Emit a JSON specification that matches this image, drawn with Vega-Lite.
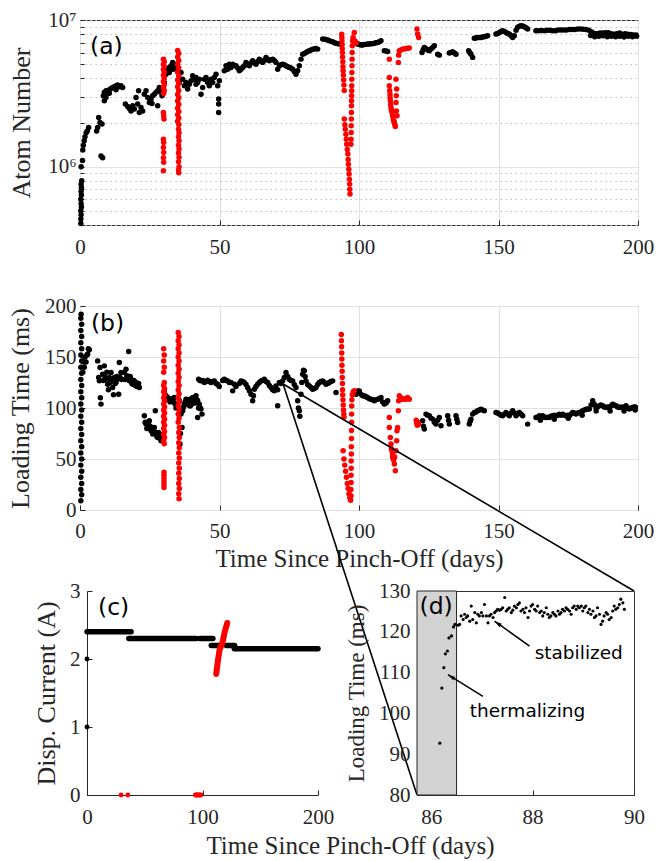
{
"$schema": "https://vega.github.io/schema/vega-lite/v6.json",
"background": "white",
"padding": {"left": 7, "top": 8, "right": 5, "bottom": 5},
"bounds": "flush",
"spacing": 81,
"config": {
  "view": {"stroke": "#333333", "strokeWidth": 1},
  "axis": {"labelFont": "Liberation Serif", "labelFontSize": 21, "labelColor": "#262626", "titleFont": "Liberation Serif", "titleFontWeight": "normal", "titleColor": "#262626", "tickColor": "#262626", "domainColor": "#262626", "labelFlush": false, "labelOverlap": false, "gridColor": "#e1e1e1", "gridWidth": 1, "tickWidth": 1}
},
"datasets": {
"a": [
{"t":0.3,"v":4.1e5,"c":"k"},{"t":0.3,"v":4.4e5,"c":"k"},{"t":0.4,"v":4.7e5,"c":"k"},{"t":0.3,"v":5.0e5,"c":"k"},{"t":0.5,"v":5.3e5,"c":"k"},{"t":0.4,"v":5.6e5,"c":"k"},{"t":0.3,"v":6.0e5,"c":"k"},{"t":0.5,"v":6.4e5,"c":"k"},{"t":0.4,"v":6.8e5,"c":"k"},{"t":0.5,"v":7.2e5,"c":"k"},{"t":0.4,"v":7.6e5,"c":"k"},{"t":0.6,"v":8.0e5,"c":"k"},{"t":0.4,"v":1.0e6,"c":"k"},{"t":0.9,"v":1.1e6,"c":"k"},{"t":1.0,"v":1.3e6,"c":"k"},{"t":1.2,"v":1.4e6,"c":"k"},{"t":1.5,"v":1.5e6,"c":"k"},{"t":1.8,"v":1.6e6,"c":"k"},{"t":2.2,"v":1.7e6,"c":"k"},{"t":2.6,"v":1.75e6,"c":"k"},{"t":3.1,"v":1.85e6,"c":"k"},
{"t":5.97,"v":1.75e6,"c":"k"},{"t":6.33,"v":1.85e6,"c":"k"},{"t":6.69,"v":2.16e6,"c":"k"},{"t":7.17,"v":2.0e6,"c":"k"},{"t":7.89,"v":1.95e6,"c":"k"},{"t":7.53,"v":1.18e6,"c":"k"},{"t":8.12,"v":1.15e6,"c":"k"},
{"t":8.36,"v":3.04e6,"c":"k"},{"t":8.72,"v":3.21e6,"c":"k"},{"t":8.72,"v":2.81e6,"c":"k"},{"t":9.32,"v":3.29e6,"c":"k"},{"t":9.32,"v":2.96e6,"c":"k"},{"t":9.92,"v":3.17e6,"c":"k"},{"t":10.51,"v":3.34e6,"c":"k"},{"t":10.51,"v":3.17e6,"c":"k"},{"t":11.11,"v":3.41e6,"c":"k"},{"t":11.71,"v":3.47e6,"c":"k"},{"t":12.31,"v":3.5e6,"c":"k"},{"t":12.9,"v":3.56e6,"c":"k"},{"t":12.9,"v":3.34e6,"c":"k"},{"t":13.5,"v":3.6e6,"c":"k"},{"t":14.1,"v":3.5e6,"c":"k"},{"t":14.7,"v":3.56e6,"c":"k"},{"t":15.29,"v":3.47e6,"c":"k"},
{"t":16.25,"v":2.67e6,"c":"k"},{"t":17.08,"v":2.57e6,"c":"k"},{"t":17.68,"v":2.49e6,"c":"k"},{"t":18.28,"v":2.40e6,"c":"k"},{"t":18.88,"v":2.60e6,"c":"k"},{"t":19.47,"v":2.47e6,"c":"k"},{"t":20.07,"v":2.96e6,"c":"k"},{"t":20.67,"v":2.67e6,"c":"k"},{"t":21.0,"v":3.29e6,"c":"k"},{"t":21.27,"v":2.34e6,"c":"k"},{"t":21.86,"v":2.53e6,"c":"k"},{"t":22.46,"v":2.40e6,"c":"k"},
{"t":23.06,"v":3.12e6,"c":"k"},{"t":23.66,"v":3.29e6,"c":"k"},{"t":24.25,"v":2.96e6,"c":"k"},{"t":24.85,"v":2.74e6,"c":"k"},{"t":25.45,"v":2.89e6,"c":"k"},{"t":25.8,"v":2.7e6,"c":"k"},{"t":26.05,"v":3.04e6,"c":"k"},{"t":26.64,"v":3.12e6,"c":"k"},{"t":27.24,"v":3.21e6,"c":"k"},{"t":27.84,"v":3.29e6,"c":"k"},{"t":27.84,"v":2.6e6,"c":"k"},{"t":28.43,"v":3.47e6,"c":"k"},{"t":29.03,"v":3.21e6,"c":"k"},{"t":29.39,"v":3.04e6,"c":"k"},
{"t":30.23,"v":3.75e6,"c":"k"},{"t":30.82,"v":4.27e6,"c":"k"},{"t":31.42,"v":4.62e6,"c":"k"},{"t":32.02,"v":4.75e6,"c":"k"},{"t":32.02,"v":4.39e6,"c":"k"},{"t":32.62,"v":4.88e6,"c":"k"},{"t":33.21,"v":5.14e6,"c":"k"},{"t":33.21,"v":4.62e6,"c":"k"},{"t":33.81,"v":5.0e6,"c":"k"},{"t":34.41,"v":4.62e6,"c":"k"},
{"t":35.6,"v":3.75e6,"c":"k"},{"t":36.2,"v":4.39e6,"c":"k"},{"t":36.8,"v":3.95e6,"c":"k"},{"t":37.4,"v":3.56e6,"c":"k"},{"t":38.0,"v":3.75e6,"c":"k"},{"t":38.59,"v":3.38e6,"c":"k"},{"t":39.19,"v":3.65e6,"c":"k"},{"t":39.78,"v":3.85e6,"c":"k"},{"t":40.38,"v":4.16e6,"c":"k"},{"t":40.98,"v":3.95e6,"c":"k"},{"t":41.58,"v":4.06e6,"c":"k"},{"t":41.58,"v":3.65e6,"c":"k"},{"t":42.17,"v":3.75e6,"c":"k"},{"t":42.77,"v":3.95e6,"c":"k"},{"t":43.37,"v":3.12e6,"c":"k"},{"t":43.97,"v":3.47e6,"c":"k"},{"t":44.56,"v":3.95e6,"c":"k"},{"t":45.16,"v":4.06e6,"c":"k"},{"t":45.76,"v":3.75e6,"c":"k"},{"t":46.36,"v":3.85e6,"c":"k"},{"t":46.36,"v":3.56e6,"c":"k"},{"t":46.95,"v":3.95e6,"c":"k"},{"t":47.55,"v":3.75e6,"c":"k"},{"t":48.15,"v":4.06e6,"c":"k"},{"t":48.75,"v":4.27e6,"c":"k"},{"t":49.34,"v":3.56e6,"c":"k"},{"t":49.94,"v":3.85e6,"c":"k"},{"t":49.7,"v":2.89e6,"c":"k"},{"t":49.7,"v":2.67e6,"c":"k"},{"t":49.7,"v":2.34e6,"c":"k"},
{"t":51.73,"v":4.5e6,"c":"k"},{"t":52.33,"v":4.88e6,"c":"k"},{"t":52.93,"v":4.62e6,"c":"k"},{"t":53.52,"v":5.0e6,"c":"k"},{"t":54.12,"v":4.75e6,"c":"k"},{"t":54.72,"v":5.0e6,"c":"k"},{"t":55.32,"v":4.9e6,"c":"k"},{"t":55.91,"v":4.88e6,"c":"k"},{"t":56.5,"v":4.7e6,"c":"k"},{"t":57.11,"v":4.5e6,"c":"k"},{"t":57.71,"v":4.62e6,"c":"k"},{"t":58.3,"v":4.75e6,"c":"k"},{"t":58.9,"v":4.88e6,"c":"k"},
{"t":59.5,"v":5.14e6,"c":"k"},{"t":60.1,"v":5.0e6,"c":"k"},{"t":60.69,"v":4.88e6,"c":"k"},{"t":61.29,"v":5.1e6,"c":"k"},{"t":61.89,"v":5.27e6,"c":"k"},{"t":62.49,"v":5.1e6,"c":"k"},{"t":63.08,"v":5.0e6,"c":"k"},{"t":63.68,"v":5.2e6,"c":"k"},{"t":64.28,"v":5.41e6,"c":"k"},{"t":64.87,"v":5.3e6,"c":"k"},{"t":65.47,"v":5.14e6,"c":"k"},{"t":66.07,"v":5.3e6,"c":"k"},{"t":66.67,"v":5.56e6,"c":"k"},{"t":67.26,"v":5.4e6,"c":"k"},{"t":67.86,"v":5.27e6,"c":"k"},{"t":68.46,"v":5.35e6,"c":"k"},{"t":69.06,"v":5.41e6,"c":"k"},{"t":69.65,"v":5.3e6,"c":"k"},{"t":70.25,"v":5.14e6,"c":"k"},
{"t":70.85,"v":4.62e6,"c":"k"},{"t":71.45,"v":4.88e6,"c":"k"},{"t":72.04,"v":4.95e6,"c":"k"},{"t":72.64,"v":5.0e6,"c":"k"},{"t":73.24,"v":4.95e6,"c":"k"},{"t":73.84,"v":4.88e6,"c":"k"},{"t":74.44,"v":4.8e6,"c":"k"},{"t":75.03,"v":4.75e6,"c":"k"},{"t":75.6,"v":4.7e6,"c":"k"},{"t":76.22,"v":4.62e6,"c":"k"},{"t":76.8,"v":4.45e6,"c":"k"},{"t":77.42,"v":4.27e6,"c":"k"},{"t":78.02,"v":4.5e6,"c":"k"},{"t":78.61,"v":4.88e6,"c":"k"},{"t":79.21,"v":5.41e6,"c":"k"},{"t":79.81,"v":5.85e6,"c":"k"},{"t":80.4,"v":5.9e6,"c":"k"},{"t":81.0,"v":6.01e6,"c":"k"},
{"t":81.6,"v":6.1e6,"c":"k"},{"t":82.2,"v":6.17e6,"c":"k"},{"t":82.8,"v":6.25e6,"c":"k"},{"t":83.39,"v":6.33e6,"c":"k"},{"t":84.0,"v":6.35e6,"c":"k"},{"t":84.59,"v":6.4e6,"c":"k"},{"t":85.19,"v":6.33e6,"c":"k"},
{"t":86.98,"v":7.41e6,"c":"k"},{"t":87.6,"v":7.4e6,"c":"k"},{"t":88.17,"v":7.35e6,"c":"k"},{"t":88.8,"v":7.3e6,"c":"k"},{"t":89.37,"v":7.22e6,"c":"k"},{"t":90.0,"v":7.15e6,"c":"k"},{"t":90.56,"v":7.1e6,"c":"k"},{"t":91.2,"v":7.0e6,"c":"k"},{"t":91.76,"v":6.95e6,"c":"k"},{"t":92.4,"v":6.9e6,"c":"k"},{"t":92.95,"v":6.85e6,"c":"k"},
{"t":99.52,"v":6.85e6,"c":"k"},{"t":100.1,"v":6.8e6,"c":"k"},{"t":100.72,"v":6.75e6,"c":"k"},{"t":101.31,"v":6.75e6,"c":"k"},{"t":101.9,"v":6.8e6,"c":"k"},{"t":102.5,"v":6.82e6,"c":"k"},{"t":103.1,"v":6.85e6,"c":"k"},{"t":103.7,"v":6.87e6,"c":"k"},{"t":104.3,"v":6.88e6,"c":"k"},{"t":104.9,"v":6.9e6,"c":"k"},{"t":105.5,"v":6.95e6,"c":"k"},{"t":106.1,"v":7.0e6,"c":"k"},{"t":106.69,"v":7.03e6,"c":"k"},{"t":107.3,"v":7.1e6,"c":"k"},{"t":107.88,"v":7.22e6,"c":"k"},
{"t":109.08,"v":6.17e6,"c":"k"},{"t":109.7,"v":6.15e6,"c":"k"},{"t":110.27,"v":6.1e6,"c":"k"},
{"t":122.58,"v":6.01e6,"c":"k"},{"t":123.0,"v":6.3e6,"c":"k"},{"t":123.41,"v":6.5e6,"c":"k"},{"t":123.8,"v":6.4e6,"c":"k"},{"t":124.25,"v":6.33e6,"c":"k"},{"t":124.7,"v":6.25e6,"c":"k"},{"t":125.2,"v":6.17e6,"c":"k"},{"t":125.8,"v":6.35e6,"c":"k"},{"t":126.4,"v":6.5e6,"c":"k"},{"t":127.0,"v":6.68e6,"c":"k"},
{"t":128.19,"v":5.85e6,"c":"k"},{"t":128.79,"v":5.76e6,"c":"k"},
{"t":132.37,"v":5.95e6,"c":"k"},{"t":132.9,"v":6.0e6,"c":"k"},{"t":133.57,"v":6.07e6,"c":"k"},{"t":134.2,"v":5.95e6,"c":"k"},{"t":134.76,"v":5.85e6,"c":"k"},
{"t":139.3,"v":6.17e6,"c":"k"},{"t":139.7,"v":6.0e6,"c":"k"},{"t":140.14,"v":5.85e6,"c":"k"},{"t":140.74,"v":5.56e6,"c":"k"},
{"t":141.33,"v":7.5e6,"c":"k"},{"t":141.9,"v":7.55e6,"c":"k"},{"t":142.53,"v":7.61e6,"c":"k"},{"t":143.1,"v":7.61e6,"c":"k"},{"t":143.72,"v":7.61e6,"c":"k"},{"t":144.3,"v":7.65e6,"c":"k"},{"t":144.92,"v":7.7e6,"c":"k"},{"t":145.5,"v":7.75e6,"c":"k"},{"t":146.11,"v":7.81e6,"c":"k"},
{"t":149.1,"v":8.02e6,"c":"k"},{"t":149.7,"v":8.1e6,"c":"k"},{"t":150.3,"v":8.23e6,"c":"k"},{"t":150.9,"v":8.35e6,"c":"k"},{"t":151.49,"v":8.45e6,"c":"k"},{"t":152.1,"v":8.35e6,"c":"k"},{"t":152.68,"v":8.23e6,"c":"k"},{"t":153.3,"v":8.1e6,"c":"k"},{"t":153.88,"v":8.02e6,"c":"k"},{"t":154.5,"v":7.8e6,"c":"k"},{"t":155.07,"v":7.61e6,"c":"k"},{"t":155.67,"v":7.81e6,"c":"k"},
{"t":156.3,"v":8.5e6,"c":"k"},{"t":156.87,"v":8.91e6,"c":"k"},{"t":157.5,"v":9.05e6,"c":"k"},{"t":158.06,"v":9.14e6,"c":"k"},{"t":158.7,"v":9.1e6,"c":"k"},{"t":159.25,"v":9.0e6,"c":"k"},{"t":159.85,"v":8.85e6,"c":"k"},{"t":160.45,"v":8.68e6,"c":"k"},
{"t":163.4,"v":8.45e6,"c":"k"},{"t":164.4,"v":8.45e6,"c":"k"},{"t":165.4,"v":8.47e6,"c":"k"},{"t":166.4,"v":8.45e6,"c":"k"},{"t":167.4,"v":8.5e6,"c":"k"},{"t":168.4,"v":8.5e6,"c":"k"},{"t":169.4,"v":8.45e6,"c":"k"},{"t":170.4,"v":8.45e6,"c":"k"},{"t":171.4,"v":8.55e6,"c":"k"},{"t":172.4,"v":8.55e6,"c":"k"},{"t":173.4,"v":8.55e6,"c":"k"},{"t":174.4,"v":8.55e6,"c":"k"},{"t":175.4,"v":8.6e6,"c":"k"},{"t":176.4,"v":8.6e6,"c":"k"},{"t":177.4,"v":8.62e6,"c":"k"},{"t":178.4,"v":8.68e6,"c":"k"},{"t":179.4,"v":8.68e6,"c":"k"},{"t":180.4,"v":8.65e6,"c":"k"},{"t":181.4,"v":8.6e6,"c":"k"},{"t":182.4,"v":8.5e6,"c":"k"},{"t":183.4,"v":8.3e6,"c":"k"},{"t":184.4,"v":8.1e6,"c":"k"},{"t":185.4,"v":8.05e6,"c":"k"},{"t":186.4,"v":8.15e6,"c":"k"},{"t":187.4,"v":8.15e6,"c":"k"},{"t":188.4,"v":8.2e6,"c":"k"},{"t":189.4,"v":8.2e6,"c":"k"},{"t":190.4,"v":8.05e6,"c":"k"},{"t":191.4,"v":8.0e6,"c":"k"},{"t":192.4,"v":8.05e6,"c":"k"},{"t":193.4,"v":8.15e6,"c":"k"},{"t":194.4,"v":8.0e6,"c":"k"},{"t":195.4,"v":8.05e6,"c":"k"},{"t":196.4,"v":8.0e6,"c":"k"},{"t":197.4,"v":7.95e6,"c":"k"},{"t":198.4,"v":7.9e6,"c":"k"},{"t":199.3,"v":7.9e6,"c":"k"},
{"t":183.0,"v":7.85e6,"c":"k"},{"t":184.5,"v":7.7e6,"c":"k"},{"t":186.0,"v":7.75e6,"c":"k"},{"t":187.5,"v":7.8e6,"c":"k"},{"t":189.0,"v":7.7e6,"c":"k"},{"t":190.5,"v":7.75e6,"c":"k"},{"t":192.0,"v":7.7e6,"c":"k"},{"t":193.5,"v":7.75e6,"c":"k"},{"t":195.0,"v":7.65e6,"c":"k"},{"t":196.5,"v":7.75e6,"c":"k"},{"t":198.0,"v":7.7e6,"c":"k"},{"t":199.5,"v":7.75e6,"c":"k"},
{"t":29.9,"v":5.4e6,"c":"r"},{"t":30.2,"v":5.2e6,"c":"r"},{"t":29.9,"v":5.0e6,"c":"r"},{"t":30.2,"v":4.8e6,"c":"r"},{"t":29.9,"v":4.6e6,"c":"r"},{"t":30.2,"v":4.4e6,"c":"r"},{"t":29.9,"v":4.2e6,"c":"r"},{"t":30.2,"v":4.0e6,"c":"r"},{"t":29.9,"v":3.8e6,"c":"r"},{"t":30.2,"v":3.6e6,"c":"r"},{"t":29.9,"v":3.45e6,"c":"r"},{"t":30.2,"v":3.3e6,"c":"r"},{"t":30.0,"v":3.15e6,"c":"r"},{"t":29.9,"v":2.34e6,"c":"r"},{"t":30.0,"v":2.22e6,"c":"r"},{"t":30.1,"v":2.11e6,"c":"r"},{"t":29.9,"v":1.54e6,"c":"r"},{"t":30.0,"v":1.46e6,"c":"r"},{"t":29.9,"v":1.35e6,"c":"r"},{"t":30.0,"v":1.25e6,"c":"r"},{"t":29.9,"v":1.15e6,"c":"r"},{"t":30.0,"v":1.07e6,"c":"r"},{"t":29.9,"v":9.36e5,"c":"r"},
{"t":35.0,"v":6.2e6,"c":"r"},{"t":35.4,"v":5.9e6,"c":"r"},{"t":35.0,"v":5.6e6,"c":"r"},{"t":35.4,"v":5.3e6,"c":"r"},{"t":35.0,"v":5.0e6,"c":"r"},{"t":35.4,"v":4.7e6,"c":"r"},{"t":35.0,"v":4.4e6,"c":"r"},{"t":35.4,"v":4.15e6,"c":"r"},{"t":35.0,"v":3.9e6,"c":"r"},{"t":35.4,"v":3.7e6,"c":"r"},{"t":35.0,"v":3.5e6,"c":"r"},{"t":35.4,"v":3.3e6,"c":"r"},{"t":35.0,"v":3.1e6,"c":"r"},{"t":35.4,"v":2.95e6,"c":"r"},{"t":35.0,"v":2.8e6,"c":"r"},{"t":35.4,"v":2.65e6,"c":"r"},{"t":35.0,"v":2.5e6,"c":"r"},{"t":35.4,"v":2.38e6,"c":"r"},{"t":35.0,"v":2.26e6,"c":"r"},{"t":35.4,"v":2.15e6,"c":"r"},{"t":35.0,"v":2.04e6,"c":"r"},{"t":35.4,"v":1.94e6,"c":"r"},{"t":35.3,"v":1.8e6,"c":"r"},{"t":35.5,"v":1.7e6,"c":"r"},{"t":35.3,"v":1.6e6,"c":"r"},{"t":35.5,"v":1.5e6,"c":"r"},{"t":35.3,"v":1.4e6,"c":"r"},{"t":35.5,"v":1.32e6,"c":"r"},{"t":35.3,"v":1.24e6,"c":"r"},{"t":35.5,"v":1.16e6,"c":"r"},{"t":35.3,"v":1.08e6,"c":"r"},{"t":35.5,"v":1.0e6,"c":"r"},{"t":35.3,"v":9.5e5,"c":"r"},{"t":35.4,"v":9.1e5,"c":"r"},
{"t":93.8,"v":8.0e6,"c":"r"},{"t":93.85,"v":7.6e6,"c":"r"},{"t":93.9,"v":7.2e6,"c":"r"},{"t":93.95,"v":6.8e6,"c":"r"},{"t":94.0,"v":6.4e6,"c":"r"},{"t":94.05,"v":6.0e6,"c":"r"},{"t":94.1,"v":5.6e6,"c":"r"},{"t":94.2,"v":5.2e6,"c":"r"},{"t":94.25,"v":4.8e6,"c":"r"},{"t":94.3,"v":4.5e6,"c":"r"},{"t":94.4,"v":4.2e6,"c":"r"},{"t":94.5,"v":3.9e6,"c":"r"},{"t":94.6,"v":3.6e6,"c":"r"},{"t":94.7,"v":3.3e6,"c":"r"},
{"t":94.74,"v":2.11e6,"c":"r"},{"t":94.95,"v":1.93e6,"c":"r"},{"t":95.1,"v":1.80e6,"c":"r"},{"t":95.3,"v":1.66e6,"c":"r"},{"t":95.45,"v":1.54e6,"c":"r"},{"t":95.6,"v":1.42e6,"c":"r"},{"t":95.8,"v":1.31e6,"c":"r"},{"t":96.0,"v":1.22e6,"c":"r"},{"t":96.1,"v":1.12e6,"c":"r"},{"t":96.2,"v":1.04e6,"c":"r"},{"t":96.35,"v":9.6e5,"c":"r"},{"t":96.45,"v":8.9e5,"c":"r"},{"t":96.55,"v":8.2e5,"c":"r"},{"t":96.65,"v":7.6e5,"c":"r"},{"t":96.7,"v":7.0e5,"c":"r"},{"t":96.77,"v":6.5e5,"c":"r"},
{"t":97.1,"v":1.42e6,"c":"r"},{"t":97.15,"v":1.54e6,"c":"r"},{"t":97.2,"v":1.71e6,"c":"r"},{"t":97.22,"v":1.90e6,"c":"r"},{"t":97.25,"v":2.11e6,"c":"r"},{"t":97.28,"v":2.34e6,"c":"r"},{"t":97.3,"v":2.6e6,"c":"r"},{"t":97.32,"v":2.81e6,"c":"r"},{"t":97.35,"v":3.04e6,"c":"r"},{"t":97.38,"v":3.29e6,"c":"r"},{"t":97.4,"v":3.56e6,"c":"r"},{"t":97.42,"v":3.95e6,"c":"r"},{"t":97.45,"v":4.39e6,"c":"r"},{"t":97.5,"v":4.88e6,"c":"r"},{"t":97.52,"v":5.41e6,"c":"r"},{"t":97.55,"v":6.01e6,"c":"r"},{"t":97.6,"v":6.68e6,"c":"r"},{"t":97.7,"v":7.22e6,"c":"r"},{"t":97.9,"v":7.6e6,"c":"r"},{"t":98.3,"v":8.23e6,"c":"r"},{"t":98.6,"v":7.2e6,"c":"r"},{"t":99.0,"v":7.0e6,"c":"r"},
{"t":110.87,"v":5.41e6,"c":"r"},{"t":110.87,"v":4.06e6,"c":"r"},{"t":110.87,"v":3.56e6,"c":"r"},{"t":111.0,"v":3.3e6,"c":"r"},{"t":111.1,"v":3.12e6,"c":"r"},{"t":111.15,"v":2.95e6,"c":"r"},{"t":111.23,"v":2.81e6,"c":"r"},{"t":111.35,"v":2.65e6,"c":"r"},{"t":111.47,"v":2.53e6,"c":"r"},{"t":111.6,"v":2.43e6,"c":"r"},{"t":111.82,"v":2.34e6,"c":"r"},{"t":112.06,"v":2.22e6,"c":"r"},{"t":112.3,"v":2.11e6,"c":"r"},{"t":112.5,"v":2.05e6,"c":"r"},{"t":112.66,"v":2.0e6,"c":"r"},{"t":112.85,"v":1.94e6,"c":"r"},{"t":113.02,"v":1.88e6,"c":"r"},{"t":113.26,"v":3.95e6,"c":"r"},{"t":113.5,"v":3.38e6,"c":"r"},{"t":113.38,"v":3.04e6,"c":"r"},{"t":113.26,"v":2.74e6,"c":"r"},{"t":113.38,"v":2.40e6,"c":"r"},{"t":113.62,"v":2.22e6,"c":"r"},{"t":114.09,"v":5.14e6,"c":"r"},{"t":114.21,"v":5.76e6,"c":"r"},{"t":114.45,"v":6.17e6,"c":"r"},{"t":115.0,"v":6.25e6,"c":"r"},{"t":115.65,"v":6.33e6,"c":"r"},{"t":116.2,"v":6.35e6,"c":"r"},{"t":116.84,"v":6.4e6,"c":"r"},{"t":117.4,"v":6.42e6,"c":"r"},{"t":118.04,"v":6.45e6,"c":"r"},{"t":120.78,"v":8.68e6,"c":"r"},{"t":121.02,"v":8.02e6,"c":"r"},{"t":121.38,"v":7.61e6,"c":"r"}
],
"b": [
{"t":0.3,"v":9,"c":"k"},{"t":0.6,"v":15,"c":"k"},{"t":0.3,"v":20,"c":"k"},{"t":0.6,"v":26,"c":"k"},{"t":0.3,"v":32,"c":"k"},{"t":0.6,"v":38,"c":"k"},{"t":0.3,"v":44,"c":"k"},{"t":0.6,"v":50,"c":"k"},{"t":0.3,"v":56,"c":"k"},{"t":0.6,"v":62,"c":"k"},{"t":0.3,"v":68,"c":"k"},{"t":0.6,"v":74,"c":"k"},{"t":0.3,"v":80,"c":"k"},{"t":0.6,"v":86,"c":"k"},{"t":0.3,"v":92,"c":"k"},{"t":0.6,"v":98,"c":"k"},{"t":0.3,"v":104,"c":"k"},{"t":0.6,"v":110,"c":"k"},{"t":0.3,"v":116,"c":"k"},{"t":0.6,"v":122,"c":"k"},{"t":0.3,"v":128,"c":"k"},{"t":0.6,"v":134,"c":"k"},{"t":0.3,"v":140,"c":"k"},{"t":0.6,"v":146,"c":"k"},{"t":0.3,"v":152,"c":"k"},{"t":0.6,"v":158,"c":"k"},{"t":0.3,"v":164,"c":"k"},{"t":0.6,"v":170,"c":"k"},{"t":0.3,"v":176,"c":"k"},{"t":0.6,"v":182,"c":"k"},{"t":0.3,"v":188,"c":"k"},{"t":0.4,"v":192,"c":"k"},
{"t":1.0,"v":135,"c":"k"},{"t":1.3,"v":145,"c":"k"},{"t":1.55,"v":140,"c":"k"},{"t":1.8,"v":150,"c":"k"},{"t":2.15,"v":145,"c":"k"},{"t":2.5,"v":152,"c":"k"},{"t":2.75,"v":153,"c":"k"},{"t":3.0,"v":158,"c":"k"},{"t":3.35,"v":157,"c":"k"},
{"t":6.33,"v":146.2,"c":"k"},{"t":6.69,"v":129.9,"c":"k"},{"t":6.93,"v":126.6,"c":"k"},{"t":7.17,"v":139.6,"c":"k"},{"t":7.53,"v":103.8,"c":"k"},{"t":7.3,"v":110,"c":"k"},{"t":8.12,"v":133.1,"c":"k"},{"t":8.4,"v":127,"c":"k"},{"t":8.72,"v":141.3,"c":"k"},{"t":9.0,"v":130,"c":"k"},{"t":9.32,"v":128.2,"c":"k"},{"t":9.6,"v":135,"c":"k"},{"t":9.92,"v":123.3,"c":"k"},{"t":10.2,"v":118,"c":"k"},{"t":10.51,"v":129.9,"c":"k"},{"t":10.8,"v":125,"c":"k"},{"t":11.11,"v":134.7,"c":"k"},{"t":11.4,"v":128,"c":"k"},{"t":11.71,"v":120.1,"c":"k"},{"t":12.0,"v":113,"c":"k"},{"t":12.31,"v":129.9,"c":"k"},{"t":12.6,"v":124,"c":"k"},{"t":12.9,"v":125,"c":"k"},{"t":13.2,"v":131,"c":"k"},{"t":13.5,"v":128.2,"c":"k"},{"t":13.86,"v":113.5,"c":"k"},{"t":14.1,"v":144.5,"c":"k"},{"t":14.34,"v":129.9,"c":"k"},{"t":14.7,"v":134.7,"c":"k"},{"t":15.0,"v":128,"c":"k"},
{"t":15.89,"v":134.7,"c":"k"},{"t":16.2,"v":128,"c":"k"},{"t":16.49,"v":138,"c":"k"},{"t":16.8,"v":131,"c":"k"},{"t":17.08,"v":131.5,"c":"k"},{"t":17.44,"v":155.3,"c":"k"},{"t":17.68,"v":126.6,"c":"k"},{"t":18.0,"v":131,"c":"k"},{"t":18.28,"v":128.2,"c":"k"},{"t":18.6,"v":124,"c":"k"},{"t":18.88,"v":123.3,"c":"k"},{"t":19.2,"v":127,"c":"k"},{"t":19.47,"v":126.6,"c":"k"},{"t":19.8,"v":122,"c":"k"},{"t":20.07,"v":125,"c":"k"},{"t":20.4,"v":121,"c":"k"},{"t":20.67,"v":121.7,"c":"k"},{"t":21.0,"v":124,"c":"k"},{"t":21.27,"v":120.1,"c":"k"},
{"t":23.06,"v":92.3,"c":"k"},{"t":23.36,"v":86,"c":"k"},{"t":23.66,"v":84.2,"c":"k"},{"t":23.96,"v":80,"c":"k"},{"t":24.25,"v":80.9,"c":"k"},{"t":24.55,"v":84,"c":"k"},{"t":24.85,"v":87.4,"c":"k"},{"t":25.15,"v":82,"c":"k"},{"t":25.45,"v":77.7,"c":"k"},{"t":25.75,"v":79,"c":"k"},{"t":26.05,"v":74.4,"c":"k"},{"t":26.35,"v":78,"c":"k"},{"t":26.64,"v":80.9,"c":"k"},{"t":27.0,"v":97.2,"c":"k"},{"t":27.24,"v":76,"c":"k"},{"t":27.54,"v":72,"c":"k"},{"t":27.84,"v":71.1,"c":"k"},{"t":28.14,"v":76,"c":"k"},{"t":28.43,"v":74.4,"c":"k"},{"t":28.73,"v":70,"c":"k"},{"t":29.03,"v":67.9,"c":"k"},{"t":29.3,"v":72,"c":"k"},
{"t":30.23,"v":116.8,"c":"k"},{"t":30.5,"v":113,"c":"k"},{"t":30.82,"v":111.9,"c":"k"},{"t":31.1,"v":110,"c":"k"},{"t":31.42,"v":110.3,"c":"k"},{"t":31.7,"v":108,"c":"k"},{"t":32.02,"v":108.6,"c":"k"},{"t":32.3,"v":106,"c":"k"},{"t":32.62,"v":107,"c":"k"},{"t":32.9,"v":109,"c":"k"},{"t":33.21,"v":108.6,"c":"k"},{"t":33.5,"v":106,"c":"k"},{"t":33.81,"v":110.3,"c":"k"},{"t":34.1,"v":104,"c":"k"},{"t":34.4,"v":100,"c":"k"},
{"t":35.6,"v":107,"c":"k"},{"t":35.84,"v":64.6,"c":"k"},{"t":36.0,"v":75,"c":"k"},{"t":36.2,"v":94,"c":"k"},{"t":36.56,"v":80.9,"c":"k"},{"t":36.8,"v":97.2,"c":"k"},{"t":37.1,"v":101,"c":"k"},{"t":37.4,"v":103.8,"c":"k"},{"t":37.7,"v":106,"c":"k"},{"t":38.0,"v":108.6,"c":"k"},{"t":38.3,"v":104,"c":"k"},{"t":38.59,"v":105.4,"c":"k"},{"t":38.9,"v":103,"c":"k"},{"t":39.19,"v":108.6,"c":"k"},{"t":39.5,"v":102,"c":"k"},{"t":39.78,"v":107,"c":"k"},{"t":40.1,"v":104,"c":"k"},{"t":40.38,"v":110.3,"c":"k"},{"t":40.7,"v":106,"c":"k"},{"t":40.98,"v":108.6,"c":"k"},{"t":41.3,"v":105,"c":"k"},{"t":41.58,"v":111.9,"c":"k"},{"t":41.9,"v":108,"c":"k"},{"t":42.17,"v":107,"c":"k"},{"t":42.17,"v":90.7,"c":"k"},{"t":42.5,"v":100,"c":"k"},{"t":42.77,"v":103.8,"c":"k"},{"t":43.1,"v":100,"c":"k"},{"t":43.37,"v":98.9,"c":"k"},{"t":43.73,"v":94,"c":"k"},
{"t":42.53,"v":128.2,"c":"k"},{"t":43.0,"v":127,"c":"k"},{"t":43.37,"v":126.6,"c":"k"},{"t":43.97,"v":127,"c":"k"},{"t":44.56,"v":125,"c":"k"},{"t":45.16,"v":126,"c":"k"},{"t":45.76,"v":127.2,"c":"k"},{"t":46.36,"v":126,"c":"k"},{"t":46.95,"v":125,"c":"k"},{"t":47.55,"v":126,"c":"k"},{"t":48.15,"v":126.6,"c":"k"},{"t":48.75,"v":124,"c":"k"},{"t":49.34,"v":123.3,"c":"k"},{"t":49.9,"v":121,"c":"k"},{"t":51.13,"v":127,"c":"k"},{"t":51.73,"v":128.2,"c":"k"},{"t":52.33,"v":127,"c":"k"},{"t":52.93,"v":126.6,"c":"k"},{"t":53.52,"v":125,"c":"k"},{"t":54.12,"v":125,"c":"k"},{"t":54.72,"v":116.8,"c":"k"},{"t":55.32,"v":123.3,"c":"k"},{"t":55.9,"v":121,"c":"k"},{"t":57.11,"v":124,"c":"k"},{"t":57.71,"v":126.6,"c":"k"},{"t":58.3,"v":126,"c":"k"},{"t":58.9,"v":125,"c":"k"},{"t":59.5,"v":123,"c":"k"},{"t":60.1,"v":120.1,"c":"k"},{"t":60.69,"v":117,"c":"k"},{"t":61.29,"v":113.5,"c":"k"},{"t":61.89,"v":107,"c":"k"},{"t":62.2,"v":112,"c":"k"},{"t":62.49,"v":118.4,"c":"k"},{"t":63.08,"v":121,"c":"k"},{"t":63.68,"v":123.3,"c":"k"},{"t":64.28,"v":125,"c":"k"},{"t":64.87,"v":126.6,"c":"k"},{"t":65.47,"v":127,"c":"k"},{"t":66.07,"v":128.2,"c":"k"},{"t":66.67,"v":126,"c":"k"},{"t":67.26,"v":125,"c":"k"},{"t":67.86,"v":122,"c":"k"},{"t":68.46,"v":120.1,"c":"k"},{"t":69.06,"v":118,"c":"k"},{"t":69.65,"v":116.8,"c":"k"},{"t":70.25,"v":121.7,"c":"k"},{"t":70.85,"v":102.1,"c":"k"},{"t":70.85,"v":118,"c":"k"},{"t":71.45,"v":125,"c":"k"},{"t":72.04,"v":124,"c":"k"},{"t":72.64,"v":126.6,"c":"k"},{"t":73.24,"v":130,"c":"k"},{"t":73.84,"v":134.7,"c":"k"},{"t":74.44,"v":131,"c":"k"},{"t":75.03,"v":128.2,"c":"k"},{"t":75.6,"v":127,"c":"k"},{"t":76.22,"v":126.6,"c":"k"},{"t":76.8,"v":123,"c":"k"},{"t":77.42,"v":120.1,"c":"k"},{"t":78.02,"v":107,"c":"k"},{"t":78.3,"v":100,"c":"k"},{"t":78.61,"v":97.2,"c":"k"},{"t":78.8,"v":92,"c":"k"},{"t":79.21,"v":113.5,"c":"k"},{"t":79.5,"v":125,"c":"k"},{"t":79.81,"v":133.1,"c":"k"},{"t":80.1,"v":137,"c":"k"},{"t":80.41,"v":136.4,"c":"k"},{"t":80.7,"v":131,"c":"k"},{"t":81.0,"v":126.6,"c":"k"},{"t":81.6,"v":123,"c":"k"},{"t":82.2,"v":121.7,"c":"k"},{"t":82.8,"v":120,"c":"k"},{"t":83.39,"v":118.4,"c":"k"},{"t":84.0,"v":119,"c":"k"},{"t":84.59,"v":120.1,"c":"k"},{"t":85.2,"v":123,"c":"k"},{"t":85.78,"v":125,"c":"k"},{"t":86.4,"v":126,"c":"k"},{"t":86.98,"v":126.6,"c":"k"},{"t":87.6,"v":125,"c":"k"},{"t":88.17,"v":123.3,"c":"k"},{"t":88.8,"v":124,"c":"k"},{"t":89.37,"v":125,"c":"k"},{"t":89.9,"v":126,"c":"k"},{"t":90.56,"v":126.6,"c":"k"},{"t":91.76,"v":115.2,"c":"k"},
{"t":98.92,"v":113.5,"c":"k"},{"t":99.52,"v":116.8,"c":"k"},{"t":100.1,"v":116.8,"c":"k"},{"t":100.71,"v":113.5,"c":"k"},{"t":101.3,"v":112,"c":"k"},{"t":101.91,"v":111.9,"c":"k"},{"t":102.5,"v":111,"c":"k"},{"t":103.1,"v":110.3,"c":"k"},{"t":103.7,"v":109,"c":"k"},{"t":104.3,"v":108.6,"c":"k"},{"t":104.9,"v":108,"c":"k"},{"t":105.49,"v":107,"c":"k"},{"t":106.1,"v":108,"c":"k"},{"t":106.69,"v":108.6,"c":"k"},{"t":107.3,"v":109,"c":"k"},{"t":107.88,"v":110.3,"c":"k"},{"t":108.5,"v":106,"c":"k"},{"t":109.08,"v":103.8,"c":"k"},{"t":109.7,"v":105,"c":"k"},{"t":110.27,"v":107,"c":"k"},
{"t":122.81,"v":87.4,"c":"k"},{"t":123.1,"v":82,"c":"k"},{"t":123.41,"v":79.3,"c":"k"},{"t":124.01,"v":94,"c":"k"},{"t":124.6,"v":93,"c":"k"},{"t":125.2,"v":92.3,"c":"k"},{"t":125.8,"v":90,"c":"k"},{"t":126.4,"v":89.1,"c":"k"},{"t":127.0,"v":86,"c":"k"},{"t":127.59,"v":84.2,"c":"k"},{"t":128.2,"v":88,"c":"k"},{"t":128.79,"v":90.7,"c":"k"},{"t":129.39,"v":82.5,"c":"k"},{"t":131.78,"v":92.3,"c":"k"},{"t":132.1,"v":88,"c":"k"},{"t":132.37,"v":84.2,"c":"k"},{"t":134.76,"v":92.3,"c":"k"},{"t":135.06,"v":89,"c":"k"},{"t":135.36,"v":85.8,"c":"k"},{"t":139.54,"v":84.2,"c":"k"},{"t":139.84,"v":87,"c":"k"},{"t":140.14,"v":89.1,"c":"k"},{"t":140.74,"v":94,"c":"k"},{"t":141.33,"v":95.6,"c":"k"},{"t":141.9,"v":96,"c":"k"},{"t":142.53,"v":97.2,"c":"k"},{"t":143.1,"v":98,"c":"k"},{"t":143.72,"v":98.9,"c":"k"},{"t":144.3,"v":98,"c":"k"},{"t":144.92,"v":97.2,"c":"k"},{"t":149.1,"v":95.6,"c":"k"},{"t":149.7,"v":95,"c":"k"},{"t":150.3,"v":94,"c":"k"},{"t":150.9,"v":93,"c":"k"},{"t":151.49,"v":92.3,"c":"k"},{"t":152.1,"v":94,"c":"k"},{"t":152.68,"v":95.6,"c":"k"},{"t":153.3,"v":94,"c":"k"},{"t":153.88,"v":92.3,"c":"k"},{"t":154.5,"v":95,"c":"k"},{"t":155.07,"v":97.2,"c":"k"},{"t":155.7,"v":95,"c":"k"},{"t":156.27,"v":92.3,"c":"k"},{"t":156.9,"v":94,"c":"k"},{"t":157.46,"v":95.6,"c":"k"},{"t":158.1,"v":94,"c":"k"},{"t":158.66,"v":92.3,"c":"k"},{"t":160.45,"v":84.2,"c":"k"},
{"t":163.44,"v":90.7,"c":"k"},{"t":164.0,"v":91,"c":"k"},{"t":164.63,"v":92.3,"c":"k"},{"t":165.2,"v":91,"c":"k"},{"t":165.83,"v":92.3,"c":"k"},{"t":166.4,"v":91,"c":"k"},{"t":167.02,"v":90.7,"c":"k"},{"t":167.6,"v":91,"c":"k"},{"t":168.22,"v":90.7,"c":"k"},{"t":168.8,"v":92,"c":"k"},{"t":169.41,"v":92.3,"c":"k"},{"t":170.0,"v":93,"c":"k"},{"t":170.6,"v":92.3,"c":"k"},{"t":171.2,"v":93,"c":"k"},{"t":171.8,"v":94,"c":"k"},{"t":172.4,"v":93,"c":"k"},{"t":173.0,"v":94,"c":"k"},{"t":173.6,"v":93,"c":"k"},{"t":174.19,"v":92.3,"c":"k"},{"t":174.8,"v":93,"c":"k"},{"t":175.39,"v":92.3,"c":"k"},{"t":176.0,"v":94,"c":"k"},{"t":176.58,"v":95.6,"c":"k"},{"t":177.2,"v":95,"c":"k"},{"t":177.77,"v":94,"c":"k"},{"t":178.4,"v":95,"c":"k"},{"t":178.97,"v":95.6,"c":"k"},{"t":179.6,"v":96,"c":"k"},{"t":180.16,"v":97.2,"c":"k"},{"t":180.8,"v":98,"c":"k"},{"t":181.36,"v":98.9,"c":"k"},{"t":182.0,"v":99,"c":"k"},{"t":182.55,"v":98.9,"c":"k"},{"t":183.2,"v":103,"c":"k"},{"t":183.75,"v":107,"c":"k"},{"t":184.34,"v":103.8,"c":"k"},{"t":184.94,"v":100.5,"c":"k"},{"t":185.5,"v":101,"c":"k"},{"t":186.14,"v":102.1,"c":"k"},{"t":186.7,"v":103,"c":"k"},{"t":187.33,"v":102.1,"c":"k"},{"t":187.9,"v":101,"c":"k"},{"t":188.53,"v":100.5,"c":"k"},{"t":189.1,"v":101,"c":"k"},{"t":189.72,"v":100.5,"c":"k"},{"t":190.3,"v":102,"c":"k"},{"t":190.92,"v":103.8,"c":"k"},{"t":191.5,"v":103,"c":"k"},{"t":192.11,"v":102.1,"c":"k"},{"t":192.7,"v":101,"c":"k"},{"t":193.3,"v":100.5,"c":"k"},{"t":193.9,"v":101,"c":"k"},{"t":194.5,"v":100.5,"c":"k"},{"t":195.1,"v":101,"c":"k"},{"t":195.69,"v":102.1,"c":"k"},{"t":196.3,"v":100,"c":"k"},{"t":196.89,"v":98.9,"c":"k"},{"t":197.5,"v":100,"c":"k"},{"t":198.08,"v":100.5,"c":"k"},{"t":198.6,"v":101,"c":"k"},{"t":199.04,"v":101.1,"c":"k"},
{"t":165.0,"v":88,"c":"k"},{"t":170.0,"v":89,"c":"k"},{"t":175.0,"v":90,"c":"k"},{"t":180.0,"v":93,"c":"k"},{"t":185.0,"v":97,"c":"k"},{"t":190.0,"v":97,"c":"k"},{"t":195.0,"v":97,"c":"k"},{"t":199.0,"v":98,"c":"k"},
{"t":30.0,"v":158,"c":"r"},{"t":30.2,"v":152,"c":"r"},{"t":30.0,"v":146,"c":"r"},{"t":30.2,"v":140,"c":"r"},{"t":30.0,"v":135,"c":"r"},{"t":30.2,"v":125,"c":"r"},{"t":30.0,"v":122,"c":"r"},{"t":30.3,"v":119,"c":"r"},{"t":30.0,"v":116,"c":"r"},{"t":30.3,"v":113,"c":"r"},{"t":30.0,"v":110,"c":"r"},{"t":30.3,"v":107,"c":"r"},{"t":30.0,"v":104,"c":"r"},{"t":30.3,"v":101,"c":"r"},{"t":30.0,"v":98,"c":"r"},{"t":30.3,"v":95,"c":"r"},{"t":30.0,"v":92,"c":"r"},{"t":30.3,"v":89,"c":"r"},{"t":30.0,"v":86,"c":"r"},{"t":30.3,"v":83,"c":"r"},{"t":30.0,"v":80,"c":"r"},{"t":30.3,"v":77,"c":"r"},{"t":30.0,"v":74,"c":"r"},{"t":30.3,"v":71,"c":"r"},{"t":30.0,"v":68,"c":"r"},{"t":30.2,"v":65,"c":"r"},{"t":30.1,"v":37,"c":"r"},{"t":30.1,"v":34,"c":"r"},{"t":30.1,"v":31,"c":"r"},{"t":30.1,"v":28,"c":"r"},{"t":30.1,"v":25,"c":"r"},{"t":30.1,"v":22,"c":"r"},
{"t":35.2,"v":174,"c":"r"},{"t":35.5,"v":170,"c":"r"},{"t":35.2,"v":166,"c":"r"},{"t":35.5,"v":162,"c":"r"},{"t":35.2,"v":158,"c":"r"},{"t":35.5,"v":154,"c":"r"},{"t":35.2,"v":150,"c":"r"},{"t":35.5,"v":146,"c":"r"},{"t":35.2,"v":142,"c":"r"},{"t":35.5,"v":138,"c":"r"},{"t":35.2,"v":134,"c":"r"},{"t":35.5,"v":130,"c":"r"},{"t":35.2,"v":126,"c":"r"},{"t":35.5,"v":122,"c":"r"},{"t":35.2,"v":118,"c":"r"},{"t":35.5,"v":114,"c":"r"},{"t":35.2,"v":110,"c":"r"},{"t":35.5,"v":106,"c":"r"},{"t":35.2,"v":102,"c":"r"},{"t":35.5,"v":98,"c":"r"},{"t":35.2,"v":94,"c":"r"},{"t":35.5,"v":90,"c":"r"},{"t":35.2,"v":86,"c":"r"},{"t":35.6,"v":81,"c":"r"},{"t":35.4,"v":76,"c":"r"},{"t":35.6,"v":71,"c":"r"},{"t":35.4,"v":66,"c":"r"},{"t":35.6,"v":61,"c":"r"},{"t":35.4,"v":56,"c":"r"},{"t":35.6,"v":51,"c":"r"},{"t":35.4,"v":46,"c":"r"},{"t":35.6,"v":41,"c":"r"},{"t":35.4,"v":36,"c":"r"},{"t":35.6,"v":31,"c":"r"},{"t":35.4,"v":26,"c":"r"},{"t":35.6,"v":21,"c":"r"},{"t":35.4,"v":16,"c":"r"},{"t":35.5,"v":11,"c":"r"},
{"t":93.66,"v":172,"c":"r"},{"t":93.7,"v":166,"c":"r"},{"t":93.75,"v":160,"c":"r"},{"t":93.8,"v":154,"c":"r"},{"t":93.85,"v":148,"c":"r"},{"t":93.9,"v":142,"c":"r"},{"t":93.95,"v":136,"c":"r"},{"t":94.0,"v":130,"c":"r"},{"t":94.05,"v":124,"c":"r"},{"t":94.1,"v":118,"c":"r"},{"t":94.15,"v":113,"c":"r"},{"t":94.25,"v":108,"c":"r"},{"t":94.35,"v":103,"c":"r"},{"t":94.45,"v":98,"c":"r"},{"t":94.55,"v":94,"c":"r"},{"t":94.62,"v":91,"c":"r"},
{"t":94.3,"v":58,"c":"r"},{"t":94.6,"v":50,"c":"r"},{"t":94.9,"v":44,"c":"r"},{"t":95.2,"v":38,"c":"r"},{"t":95.5,"v":32,"c":"r"},{"t":95.8,"v":26,"c":"r"},{"t":96.1,"v":21,"c":"r"},{"t":96.4,"v":16,"c":"r"},{"t":96.7,"v":12,"c":"r"},{"t":97.0,"v":9.5,"c":"r"},{"t":97.1,"v":14,"c":"r"},{"t":97.1,"v":20,"c":"r"},{"t":97.15,"v":27,"c":"r"},{"t":97.15,"v":34,"c":"r"},{"t":97.2,"v":41,"c":"r"},{"t":97.2,"v":48,"c":"r"},{"t":97.25,"v":55,"c":"r"},{"t":97.25,"v":62,"c":"r"},{"t":97.3,"v":70,"c":"r"},{"t":97.3,"v":78,"c":"r"},{"t":97.35,"v":86,"c":"r"},{"t":97.35,"v":94,"c":"r"},{"t":97.4,"v":102,"c":"r"},{"t":97.45,"v":108,"c":"r"},{"t":97.6,"v":113,"c":"r"},{"t":97.9,"v":116,"c":"r"},{"t":98.3,"v":117,"c":"r"},
{"t":110.87,"v":90.7,"c":"r"},{"t":110.87,"v":80.9,"c":"r"},{"t":111.23,"v":71.1,"c":"r"},{"t":111.47,"v":64.6,"c":"r"},{"t":111.82,"v":58.1,"c":"r"},{"t":112.06,"v":51.5,"c":"r"},{"t":112.66,"v":45,"c":"r"},{"t":113.02,"v":38.5,"c":"r"},{"t":111.6,"v":60,"c":"r"},{"t":112.0,"v":55,"c":"r"},{"t":112.4,"v":49,"c":"r"},{"t":112.8,"v":52,"c":"r"},{"t":113.26,"v":58.1,"c":"r"},{"t":113.5,"v":67.9,"c":"r"},{"t":113.62,"v":77.7,"c":"r"},{"t":113.85,"v":80.9,"c":"r"},{"t":114.09,"v":97.2,"c":"r"},{"t":114.21,"v":107,"c":"r"},{"t":114.45,"v":111.9,"c":"r"},{"t":115.0,"v":110,"c":"r"},{"t":115.65,"v":108.6,"c":"r"},{"t":116.2,"v":109,"c":"r"},{"t":116.84,"v":108.6,"c":"r"},{"t":117.44,"v":110.3,"c":"r"},{"t":118.04,"v":108.6,"c":"r"},{"t":120.5,"v":88,"c":"r"},{"t":120.7,"v":85,"c":"r"},{"t":120.9,"v":83,"c":"r"},{"t":121.1,"v":86,"c":"r"},{"t":121.3,"v":84,"c":"r"}
],
"cseg": [
{"t":0,"t2":38.2,"v":2.40},{"t":36.2,"t2":94.5,"v":2.30},{"t":97.4,"t2":109,"v":2.30},{"t":107.6,"t2":114.8,"v":2.20},{"t":120.6,"t2":127.8,"v":2.20},{"t":127.5,"t2":136.3,"v":2.15},{"t":138,"t2":200,"v":2.15}
],
"cpts": [
{"t":0,"v":2.0,"c":"k"},{"t":0,"v":1.0,"c":"k"},{"t":29.5,"v":0,"c":"r"},{"t":35.3,"v":0,"c":"r"},{"t":93.8,"v":0,"c":"r"},{"t":94.6,"v":0,"c":"r"},{"t":95.4,"v":0,"c":"r"},{"t":96.2,"v":0,"c":"r"},{"t":97.0,"v":0,"c":"r"},{"t":97.8,"v":0,"c":"r"},{"t":98.6,"v":0,"c":"r"}
],
"cline": [
{"t":111.9,"v":1.78},{"t":113.3,"v":1.97},{"t":114.8,"v":2.14},{"t":116.2,"v":2.19},{"t":117.7,"v":2.27},{"t":119.1,"v":2.39},{"t":121.4,"v":2.53}
],
"dpts": [
{"t":86.17,"v":92.7},{"t":86.21,"v":106.2},{"t":86.25,"v":111.2},{"t":86.28,"v":114.6},{"t":86.32,"v":115.3},{"t":86.35,"v":118.5},{"t":86.4,"v":119.0},{"t":86.44,"v":121.2},{"t":86.47,"v":121.8},
{"t":86.53,"v":121.6},{"t":86.56,"v":121.8},{"t":86.59,"v":123.9},{"t":86.63,"v":123.0},{"t":86.66,"v":124.3},{"t":86.69,"v":123.5},{"t":86.72,"v":123.9},{"t":86.76,"v":122.6},{"t":86.79,"v":126.3},{"t":86.82,"v":123.0},{"t":86.86,"v":124.7},{"t":86.89,"v":122.2},{"t":86.92,"v":124.3},{"t":86.95,"v":123.9},{"t":86.99,"v":124.7},{"t":87.02,"v":123.9},{"t":87.05,"v":126.7},{"t":87.09,"v":123.9},{"t":87.12,"v":122.2},{"t":87.15,"v":123.9},{"t":87.18,"v":124.3},{"t":87.22,"v":123.5},{"t":87.25,"v":124.7},{"t":87.28,"v":125.1},{"t":87.31,"v":125.5},{"t":87.35,"v":125.3},{"t":87.38,"v":125.5},{"t":87.41,"v":125.9},{"t":87.45,"v":128.4},{"t":87.48,"v":125.1},{"t":87.51,"v":125.5},{"t":87.54,"v":125.9},{"t":87.58,"v":124.7},{"t":87.61,"v":125.3},{"t":87.64,"v":126.3},{"t":87.68,"v":125.9},{"t":87.71,"v":126.7},{"t":87.74,"v":127.1},{"t":87.77,"v":125.1},{"t":87.81,"v":125.5},{"t":87.84,"v":124.7},{"t":87.87,"v":125.9},{"t":87.91,"v":123.5},{"t":87.94,"v":125.1},{"t":87.97,"v":126.3},{"t":88.0,"v":126.7},{"t":88.04,"v":125.5},{"t":88.07,"v":125.1},{"t":88.1,"v":126.3},{"t":88.14,"v":124.7},{"t":88.17,"v":125.1},{"t":88.2,"v":123.9},{"t":88.23,"v":124.7},{"t":88.27,"v":125.9},{"t":88.3,"v":124.3},{"t":88.33,"v":123.5},{"t":88.36,"v":123.9},{"t":88.4,"v":124.7},{"t":88.43,"v":124.3},{"t":88.46,"v":123.9},{"t":88.5,"v":125.1},{"t":88.53,"v":124.3},{"t":88.56,"v":124.7},{"t":88.59,"v":125.5},{"t":88.63,"v":125.1},{"t":88.66,"v":125.9},{"t":88.69,"v":125.5},{"t":88.73,"v":125.1},{"t":88.76,"v":124.3},{"t":88.79,"v":125.9},{"t":88.82,"v":126.3},{"t":88.86,"v":125.5},{"t":88.89,"v":126.3},{"t":88.92,"v":125.9},{"t":88.96,"v":126.3},{"t":88.99,"v":125.1},{"t":89.02,"v":125.9},{"t":89.05,"v":126.3},{"t":89.09,"v":124.7},{"t":89.12,"v":125.5},{"t":89.15,"v":124.3},{"t":89.19,"v":125.1},{"t":89.22,"v":123.5},{"t":89.25,"v":123.9},{"t":89.28,"v":125.9},{"t":89.32,"v":124.3},{"t":89.35,"v":121.8},{"t":89.38,"v":122.6},{"t":89.41,"v":123.9},{"t":89.45,"v":124.7},{"t":89.48,"v":124.3},{"t":89.51,"v":123.0},{"t":89.55,"v":123.5},{"t":89.58,"v":125.1},{"t":89.61,"v":126.3},{"t":89.64,"v":125.5},{"t":89.68,"v":125.9},{"t":89.71,"v":126.7},{"t":89.74,"v":128.0},{"t":89.78,"v":127.1},{"t":89.81,"v":125.5}
]
},
"vconcat": [
{
 "width": 558, "height": 205,
 "layer": [
  {"data": {"name": "a"},
   "mark": {"type": "point", "filled": true, "size": 30, "opacity": 1},
   "encoding": {
    "x": {"field": "t", "type": "quantitative", "scale": {"domain": [0, 200], "nice": false},
          "axis": {"values": [0, 50, 100, 150, 200], "grid": true, "title": null, "domain": false, "tickSize": -5, "labelPadding": 16}},
    "y": {"field": "v", "type": "quantitative", "scale": {"type": "log", "domain": [400000, 10000000], "nice": false},
          "axis": {"values": [400000, 500000, 600000, 700000, 800000, 900000, 1000000, 2000000, 3000000, 4000000, 5000000, 6000000, 7000000, 8000000, 9000000, 10000000],
                   "grid": true,
                   "gridColor": {"condition": {"test": "datum.value == 1000000", "value": "#d9d9d9"}, "value": "#bdbdbd"},
                   "gridDash": {"condition": {"test": "datum.value == 1000000", "value": [1, 0]}, "value": [1.5, 3.5]},
                   "domain": false, "tickSize": -4, "labelPadding": 8,
                   "labelExpr": "datum.value == 1000000 ? '10⁶' : (datum.value == 10000000 ? '10⁷' : '')",
                   "title": "Atom Number", "titleFontSize": 26, "titlePadding": 13}},
    "color": {"field": "c", "type": "nominal", "scale": {"domain": ["k", "r"], "range": ["#000000", "#ff0000"]}, "legend": null}
   }},
  {"data": {"values": [{"t": 3.6, "v": 6580000, "s": "(a)"}]},
   "mark": {"type": "text", "font": "DejaVu Sans", "fontSize": 23.5, "align": "left", "baseline": "middle", "color": "#000000"},
   "encoding": {"x": {"field": "t", "type": "quantitative", "scale": {"domain": [0, 200], "nice": false}},
                "y": {"field": "v", "type": "quantitative", "scale": {"type": "log", "domain": [400000, 10000000], "nice": false}},
                "text": {"field": "s"}}}
 ]
},
{
 "width": 558, "height": 204,
 "layer": [
  {"data": {"name": "b"},
   "mark": {"type": "point", "filled": true, "size": 30, "opacity": 1},
   "encoding": {
    "x": {"field": "t", "type": "quantitative", "scale": {"domain": [0, 200], "nice": false},
          "axis": {"values": [0, 50, 100, 150, 200], "grid": true, "title": "Time Since Pinch-Off (days)", "titleFontSize": 25, "titlePadding": 5, "domain": false, "tickSize": -5, "labelPadding": 15}},
    "y": {"field": "v", "type": "quantitative", "scale": {"domain": [0, 200], "nice": false},
          "axis": {"values": [0, 50, 100, 150, 200], "grid": true, "domain": false, "tickSize": -5, "labelPadding": 9, "title": "Loading Time (ms)", "titleFontSize": 26, "titlePadding": 11}},
    "color": {"field": "c", "type": "nominal", "scale": {"domain": ["k", "r"], "range": ["#000000", "#ff0000"]}, "legend": null}
   }},
  {"data": {"values": [{"t": 3.9, "v": 182, "s": "(b)"}]},
   "mark": {"type": "text", "font": "DejaVu Sans", "fontSize": 23.5, "align": "left", "baseline": "middle", "color": "#000000"},
   "encoding": {"x": {"field": "t", "type": "quantitative", "scale": {"domain": [0, 200], "nice": false}},
                "y": {"field": "v", "type": "quantitative", "scale": {"domain": [0, 200], "nice": false}},
                "text": {"field": "s"}}},
  {"data": {"values": [{"t": 72.8, "v": 123.5, "t2": 120.8, "v2": -279.4}, {"t": 72.8, "v": 123.5, "t2": 198.6, "v2": -79.4}]},
   "mark": {"type": "rule", "color": "#000000", "strokeWidth": 1.6, "clip": false},
   "encoding": {"x": {"field": "t", "type": "quantitative", "scale": {"domain": [0, 200], "nice": false}},
                "y": {"field": "v", "type": "quantitative", "scale": {"domain": [0, 200], "nice": false}},
                "x2": {"field": "t2"}, "y2": {"field": "v2"}}}
 ]
},
{
 "hconcat": [
  {"width": 7, "height": 204, "view": {"stroke": null}, "data": {"values": [{}]}, "mark": {"type": "point", "opacity": 0}, "encoding": {}},
  {
   "width": 231, "height": 204, "view": {"stroke": null},
   "layer": [
    {"data": {"name": "cseg"},
     "mark": {"type": "rule", "color": "#000000", "strokeWidth": 5.5, "strokeCap": "round"},
     "encoding": {
      "x": {"field": "t", "type": "quantitative", "scale": {"domain": [0, 200], "nice": false},
            "axis": {"values": [0, 100, 200], "grid": false, "title": "Time Since Pinch-Off (days)", "titleFontSize": 25, "titlePadding": 6, "titleX": 263, "titleAlign": "center", "tickSize": -5, "labelPadding": 16}},
      "x2": {"field": "t2"},
      "y": {"field": "v", "type": "quantitative", "scale": {"domain": [0, 3], "nice": false},
            "axis": {"values": [0, 1, 2, 3], "format": "d", "grid": false, "tickSize": -5, "labelPadding": 12, "title": "Disp. Current (A)", "titleFontSize": 26, "titlePadding": 10}}
     }},
    {"data": {"name": "cline"},
     "mark": {"type": "line", "color": "#ff0000", "strokeWidth": 6, "strokeCap": "round", "strokeJoin": "round"},
     "encoding": {"x": {"field": "t", "type": "quantitative", "scale": {"domain": [0, 200], "nice": false}},
                  "y": {"field": "v", "type": "quantitative", "scale": {"domain": [0, 3], "nice": false}}}},
    {"data": {"name": "cpts"},
     "mark": {"type": "point", "filled": true, "size": 24, "opacity": 1},
     "encoding": {"x": {"field": "t", "type": "quantitative", "scale": {"domain": [0, 200], "nice": false}},
                  "y": {"field": "v", "type": "quantitative", "scale": {"domain": [0, 3], "nice": false}},
                  "color": {"field": "c", "type": "nominal", "scale": {"domain": ["k", "r"], "range": ["#000000", "#ff0000"]}, "legend": null}}},
    {"data": {"values": [{"t": 9.5, "v": 2.75, "s": "(c)"}]},
     "mark": {"type": "text", "font": "DejaVu Sans", "fontSize": 23.5, "align": "left", "baseline": "middle", "color": "#000000"},
     "encoding": {"x": {"field": "t", "type": "quantitative", "scale": {"domain": [0, 200], "nice": false}},
                  "y": {"field": "v", "type": "quantitative", "scale": {"domain": [0, 3], "nice": false}},
                  "text": {"field": "s"}}}
   ]
  },
  {"width": 99, "height": 204, "view": {"stroke": null}, "data": {"values": [{}]}, "mark": {"type": "point", "opacity": 0}, "encoding": {}},
  {
   "width": 217, "height": 204,
   "layer": [
    {"data": {"values": [{"t": 85.72, "t2": 86.5, "v": 80, "v2": 130}]},
     "mark": {"type": "rect", "fill": "#d3d3d3", "stroke": "#262626", "strokeWidth": 1},
     "encoding": {
      "x": {"field": "t", "type": "quantitative", "scale": {"domain": [85.72, 90], "nice": false, "zero": false},
            "axis": {"values": [86, 88, 90], "grid": false, "title": null, "domain": false, "tickSize": -5, "labelPadding": 16}},
      "x2": {"field": "t2"},
      "y": {"field": "v", "type": "quantitative", "scale": {"domain": [80, 130], "nice": false, "zero": false},
            "axis": {"values": [80, 90, 100, 110, 120, 130], "grid": false, "domain": false, "tickSize": -5, "labelPadding": 12, "title": "Loading Time (ms)", "titleFontSize": 23, "titlePadding": 10}},
      "y2": {"field": "v2"}
     }},
    {"data": {"name": "dpts"},
     "mark": {"type": "point", "filled": true, "size": 10, "opacity": 1, "color": "#000000"},
     "encoding": {"x": {"field": "t", "type": "quantitative", "scale": {"domain": [85.72, 90], "nice": false, "zero": false}},
                  "y": {"field": "v", "type": "quantitative", "scale": {"domain": [80, 130], "nice": false, "zero": false}}}},
    {"data": {"values": [{"t": 87.94, "v": 116.5, "t2": 87.25, "v2": 122.6}, {"t": 87.02, "v": 104.2, "t2": 86.33, "v2": 109.5}]},
     "mark": {"type": "rule", "color": "#000000", "strokeWidth": 1.5},
     "encoding": {"x": {"field": "t", "type": "quantitative", "scale": {"domain": [85.72, 90], "nice": false, "zero": false}},
                  "y": {"field": "v", "type": "quantitative", "scale": {"domain": [80, 130], "nice": false, "zero": false}},
                  "x2": {"field": "t2"}, "y2": {"field": "v2"}}},
    {"data": {"values": [{"t": 87.25, "v": 122.6}]},
     "mark": {"type": "point", "shape": "M0,0L-0.4,1.5L0.4,1.5Z", "filled": true, "size": 100, "opacity": 1, "color": "#000000", "angle": 305},
     "encoding": {"x": {"field": "t", "type": "quantitative", "scale": {"domain": [85.72, 90], "nice": false, "zero": false}},
                  "y": {"field": "v", "type": "quantitative", "scale": {"domain": [80, 130], "nice": false, "zero": false}}}},
    {"data": {"values": [{"t": 86.33, "v": 109.5}]},
     "mark": {"type": "point", "shape": "M0,0L-0.4,1.5L0.4,1.5Z", "filled": true, "size": 100, "opacity": 1, "color": "#000000", "angle": 302},
     "encoding": {"x": {"field": "t", "type": "quantitative", "scale": {"domain": [85.72, 90], "nice": false, "zero": false}},
                  "y": {"field": "v", "type": "quantitative", "scale": {"domain": [80, 130], "nice": false, "zero": false}}}},
    {"data": {"values": [{"t": 88.04, "v": 114.9, "s": "stabilized"}, {"t": 86.76, "v": 100.5, "s": "thermalizing"}]},
     "mark": {"type": "text", "font": "DejaVu Sans", "fontSize": 18.5, "align": "left", "baseline": "middle", "color": "#000000"},
     "encoding": {"x": {"field": "t", "type": "quantitative", "scale": {"domain": [85.72, 90], "nice": false, "zero": false}},
                  "y": {"field": "v", "type": "quantitative", "scale": {"domain": [80, 130], "nice": false, "zero": false}},
                  "text": {"field": "s"}}},
    {"data": {"values": [{"t": 85.77, "v": 126, "s": "(d)"}]},
     "mark": {"type": "text", "font": "DejaVu Sans", "fontSize": 23.5, "align": "left", "baseline": "middle", "color": "#000000"},
     "encoding": {"x": {"field": "t", "type": "quantitative", "scale": {"domain": [85.72, 90], "nice": false, "zero": false}},
                  "y": {"field": "v", "type": "quantitative", "scale": {"domain": [80, 130], "nice": false, "zero": false}},
                  "text": {"field": "s"}}}
   ]
  }
 ],
 "spacing": 0,
 "bounds": "flush"
}
]
}
